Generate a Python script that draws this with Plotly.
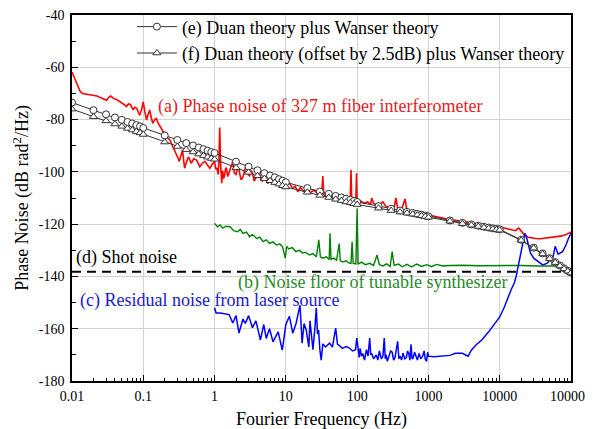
import plotly.graph_objects as go

# ---------------- data ----------------
# (a) Phase noise of 327 m fiber interferometer
red_f = [0.0100, 0.0106, 0.0113, 0.0120, 0.0130, 0.0140, 0.0160, 0.0180, 0.0200, 0.0225,
         0.0250, 0.0280, 0.0306, 0.0330, 0.0350, 0.0380, 0.0420, 0.0460, 0.0520, 0.0560,
         0.0580, 0.0620, 0.0660, 0.0720, 0.0760, 0.0810, 0.0860, 0.0890, 0.0950, 0.1000,
         0.1050, 0.1110, 0.1170, 0.1230, 0.1300, 0.1360, 0.1450, 0.1530, 0.1620, 0.1700,
         0.1800, 0.1900, 0.2000, 0.2100, 0.2360, 0.2600, 0.2900, 0.3100, 0.3200, 0.3400,
         0.3550, 0.3700, 0.3800, 0.4000, 0.4300, 0.4700, 0.5100, 0.5600, 0.6000, 0.6200,
         0.6700, 0.7300, 0.8000, 0.8600, 0.9300, 1.000, 1.040, 1.080, 1.120, 1.150,
         1.180, 1.200, 1.220, 1.260, 1.300, 1.340, 1.380, 1.420, 1.460, 1.530,
         1.600, 1.700, 1.800, 1.900, 2.000, 2.100, 2.200, 2.350, 2.500, 2.650,
         2.800, 2.950, 3.100, 3.250, 3.400, 3.600, 3.800, 4.000, 4.200, 4.450,
         4.700, 5.000, 5.300, 5.600, 5.900, 6.200, 6.600, 6.900, 7.300, 7.700,
         8.100, 8.500, 9.000, 9.500, 10.0, 11.2, 12.5, 13.5, 14.7, 16.0,
         18.0, 20.0, 22.0, 25.0, 28.0, 30.0, 32.0, 33.0, 34.0, 37.0,
         41.0, 46.0, 51.0, 56.0, 62.0, 68.0, 75.0, 80.0, 82.0, 84.0,
         90.0, 96.0, 98.0, 100.0, 110.0, 125.0, 140.0, 155.0, 160.0, 170.0,
         190.0, 210.0, 230.0, 250.0, 270.0, 300.0, 330.0, 350.0, 370.0, 420.0,
         470.0, 500.0, 560.0, 650.0, 750.0, 850.0, 1000.0, 1200.0, 1400.0, 1600.0,
         2000.0, 2500.0, 3000.0, 3600.0, 4500.0, 5500.0, 7000.0, 8500.0, 10000.0, 12000.0,
         14000.0, 16500.0, 18500.0, 20000.0, 22000.0, 25000.0, 28000.0, 32000.0, 37000.0, 42000.0,
         48000.0, 55000.0, 65000.0, 75000.0, 85000.0, 92000.0, 100000.0]
red_db = [-61.8, -63.5, -65.5, -67.5, -69.2, -70.0, -70.3, -70.4, -70.6, -71.0,
          -71.6, -72.3, -72.6, -71.4, -71.0, -71.9, -72.3, -73.0, -73.8, -74.6,
          -75.0, -74.0, -74.2, -76.3, -75.3, -75.7, -77.5, -78.3, -76.0, -73.2,
          -77.0, -80.2, -78.0, -76.3, -79.5, -81.4, -80.0, -79.6, -81.5, -82.7,
          -83.5, -84.6, -85.0, -86.5, -87.8, -90.4, -92.9, -95.0, -96.0, -93.0,
          -91.6, -96.0, -98.6, -96.5, -94.2, -96.7, -95.0, -95.5, -97.5, -98.0,
          -96.8, -96.0, -97.5, -98.6, -97.0, -96.0, -99.0, -98.5, -101.0, -97.0,
          -83.0, -97.5, -98.0, -104.3, -99.5, -102.5, -101.5, -99.0, -98.4, -101.8,
          -100.5, -98.0, -96.0, -100.5, -101.0, -98.5, -99.3, -103.0, -102.0, -99.0,
          -97.0, -101.0, -101.5, -99.5, -100.5, -103.5, -102.3, -100.0, -99.3, -103.0,
          -103.5, -101.5, -103.0, -104.5, -101.5, -103.0, -101.8, -104.5, -104.0, -102.5,
          -104.4, -105.5, -103.5, -105.5, -105.0, -104.3, -106.3, -105.5, -107.6, -106.0,
          -107.5, -106.5, -108.0, -107.0, -108.5, -107.5, -108.0, -101.6, -108.5, -109.5,
          -108.5, -110.0, -109.0, -110.5, -109.5, -111.0, -110.0, -110.8, -99.3, -111.5,
          -110.5, -111.0, -100.5, -111.5, -111.0, -112.0, -111.5, -112.5, -110.0, -112.0,
          -112.8, -112.3, -111.5, -113.0, -113.5, -113.2, -113.8, -110.0, -114.0, -114.5,
          -110.3, -114.8, -115.0, -115.5, -115.8, -116.3, -116.5, -117.0, -117.3, -117.8,
          -118.2, -118.6, -119.0, -119.3, -119.7, -120.0, -120.4, -120.7, -121.0, -121.6,
          -122.0, -122.5, -121.5, -122.8, -124.0, -125.0, -125.3, -125.5, -125.6, -125.4,
          -125.2, -125.0, -124.7, -124.5, -124.0, -123.5, -123.0]

# (b) Noise floor of tunable synthesizer
green_f = [1.00, 1.10, 1.20, 1.30, 1.45, 1.65, 1.85, 2.10, 2.30, 2.50,
           2.80, 3.10, 3.40, 3.90, 4.30, 4.80, 5.30, 5.90, 6.60, 7.40,
           8.20, 9.00, 9.80, 10.3, 11.0, 12.3, 13.8, 15.5, 17.0, 19.0,
           21.5, 24.0, 26.8, 29.0, 30.5, 33.0, 37.0, 40.5, 41.6, 43.0,
           47.0, 51.5, 56.0, 58.0, 63.0, 70.0, 76.0, 82.0, 85.0, 88.0,
           96.0, 100.0, 103.0, 115.0, 130.0, 150.0, 170.0, 190.0, 205.0, 230.0,
           260.0, 290.0, 310.0, 330.0, 380.0, 430.0, 500.0, 580.0, 680.0, 800.0,
           950.0, 1100.0, 1300.0, 1600.0, 2000.0, 3000.0, 5000.0, 8000.0, 12000.0, 20000.0,
           35000.0, 55000.0, 70000.0]
green_db = [-119.7, -121.0, -120.3, -121.5, -120.8, -121.0, -122.5, -122.9, -122.0, -123.5,
            -123.0, -124.8, -124.0, -125.5, -125.0, -126.7, -126.0, -127.4, -126.8, -128.0,
            -127.5, -128.7, -133.0, -128.5, -129.5, -129.0, -130.5, -130.0, -131.0, -130.8,
            -131.8, -131.3, -132.5, -126.0, -132.5, -133.0, -132.5, -133.5, -123.5, -133.5,
            -133.0, -133.8, -127.4, -134.0, -134.5, -134.0, -134.8, -135.0, -126.7, -135.0,
            -135.2, -114.0, -135.3, -134.5, -135.5, -135.0, -135.8, -131.8, -135.5, -136.0,
            -135.2, -136.2, -130.5, -135.8, -135.3, -136.3, -135.4, -136.4, -135.3, -136.2,
            -135.5, -136.3, -135.4, -136.0, -135.8, -135.7, -135.9, -135.8, -135.9, -135.8,
            -136.0, -136.0, -136.0]

# (c) Residual noise from laser source
blue_f = [1.00, 1.05, 1.20, 1.40, 1.60, 1.80, 2.00, 2.20, 2.50, 2.70,
          3.00, 3.40, 3.80, 4.40, 4.90, 5.30, 5.90, 6.60, 7.80, 8.90,
          10.0, 11.2, 12.5, 13.9, 15.8, 16.9, 18.0, 19.3, 21.0, 21.8,
          23.0, 24.0, 25.5, 26.7, 27.8, 28.8, 30.0, 31.3, 33.0, 36.0,
          41.0, 45.0, 50.0, 53.0, 56.0, 62.0, 70.0, 78.0, 86.0, 95.0,
          99.0, 103.0, 107.0, 110.0, 115.0, 120.0, 127.0, 135.0, 142.0, 150.0,
          155.0, 160.0, 170.0, 185.0, 195.0, 205.0, 218.0, 230.0, 240.0, 248.0,
          255.0, 265.0, 280.0, 295.0, 310.0, 325.0, 340.0, 355.0, 370.0, 385.0,
          400.0, 420.0, 440.0, 465.0, 490.0, 510.0, 530.0, 550.0, 570.0, 590.0,
          610.0, 640.0, 670.0, 700.0, 740.0, 780.0, 830.0, 870.0, 900.0, 940.0,
          975.0, 1000.0, 1200.0, 1600.0, 2000.0, 2400.0, 3000.0, 3600.0, 4000.0, 4600.0,
          5600.0, 7000.0, 8700.0, 10000.0, 11500.0, 13000.0, 14500.0, 16000.0, 17000.0, 18500.0,
          20000.0, 21000.0, 22500.0, 24000.0, 26000.0, 27000.0, 30000.0, 35000.0, 40000.0, 46000.0,
          50000.0, 56000.0, 60000.0, 63000.0, 66000.0, 76000.0, 85000.0, 92000.0, 100000.0]
blue_db = [-152.0, -154.0, -154.0, -154.2, -154.6, -157.8, -155.0, -161.7, -156.3, -158.0,
           -155.0, -159.6, -157.0, -164.3, -158.4, -163.7, -160.0, -165.0, -161.2, -168.2,
           -158.4, -155.2, -161.7, -158.0, -151.0, -165.5, -158.0, -160.5, -167.0, -157.0,
           -164.0, -168.0, -160.0, -152.0, -162.0, -160.5, -168.0, -172.0, -165.8, -167.0,
           -165.5, -167.0, -159.8, -166.0, -166.4, -167.5, -166.8, -167.4, -168.5, -168.0,
           -163.6, -169.0, -171.0, -167.5, -170.5, -169.5, -172.0, -168.0, -170.5, -163.6,
           -170.0, -169.5, -171.5, -170.0, -172.0, -168.5, -171.5, -170.5, -163.6, -171.5,
           -170.0, -172.5, -170.4, -168.5, -169.0, -172.0, -171.0, -168.5, -164.8, -171.5,
           -170.5, -172.0, -169.3, -171.5, -171.0, -168.5, -169.5, -172.0, -166.0, -171.5,
           -171.2, -169.0, -171.0, -172.0, -169.5, -171.5, -170.5, -168.5, -171.5, -172.5,
           -169.0, -170.5, -170.7, -170.5, -170.2, -169.4, -169.4, -170.5, -168.2, -166.3,
           -164.3, -161.2, -157.5, -155.5, -152.0, -148.0, -145.0, -142.5, -140.0, -135.0,
           -130.0, -127.0, -123.5, -125.5, -129.5, -131.0, -133.0, -134.4, -135.6, -135.0,
           -134.0, -132.5, -128.5, -130.0, -131.5, -130.5, -128.0, -125.5, -123.5]

# (d) Shot noise
shot_f = [0.01, 100000.0]
shot_db = [-138.2, -138.2]

# (e), (f) theory curves
theory_f = [0.01, 0.02, 0.03, 0.04, 0.05, 0.06, 0.07, 0.08, 0.09,
            0.1, 0.2, 0.3, 0.4, 0.5, 0.6, 0.7, 0.8, 0.9,
            1, 2, 3, 4, 5, 6, 7, 8, 9,
            10, 20, 30, 40, 50, 60, 70, 80, 90,
            100, 200, 300, 400, 500, 600, 700, 800, 900,
            1000, 2000, 3000, 4000, 5000, 6000, 7000, 8000, 9000,
            10000, 20000, 30000, 40000, 50000, 60000, 70000, 80000, 90000,
            100000]
theory_e = [-73.5, -76.4, -78.0, -79.2, -80.1, -80.9, -81.5, -82.1, -82.6,
            -83.2, -86.1, -87.8, -89.0, -89.9, -90.7, -91.3, -91.9, -92.4,
            -92.8, -96.1, -98.0, -99.4, -100.5, -101.4, -102.1, -102.8, -103.4,
            -104.0, -106.2, -107.5, -108.4, -109.2, -109.8, -110.3, -110.7, -111.1,
            -111.5, -113.1, -114.1, -114.8, -115.3, -115.7, -116.1, -116.4, -116.7,
            -117.0, -118.6, -119.5, -120.1, -120.6, -121.0, -121.3, -121.6, -121.8,
            -122.0, -126.0, -129.0, -131.2, -133.0, -134.5, -135.8, -136.9, -137.8,
            -138.5]
theory_f_off = [-76.0, -78.9, -80.5, -81.7, -82.6, -83.4, -84.0, -84.6, -85.1,
                -85.7, -88.6, -90.3, -91.5, -92.4, -93.2, -93.8, -94.4, -94.9,
                -95.2, -98.4, -100.2, -101.5, -102.6, -103.4, -104.1, -104.7, -105.3,
                -105.8, -107.8, -109.0, -109.8, -110.5, -111.0, -111.5, -111.8, -112.2,
                -112.5, -113.9, -114.8, -115.4, -115.8, -116.2, -116.5, -116.8, -117.1,
                -117.4, -118.9, -119.8, -120.4, -120.9, -121.3, -121.6, -121.9, -122.1,
                -122.3, -126.2, -129.2, -131.4, -133.2, -134.7, -136.0, -137.1, -138.0,
                -138.7]

x_tickvals = [0.01, 0.1, 1, 10, 100, 1000, 10000, 100000]
x_ticktext = ["0.01", "0.1", "1", "10", "100", "1000", "10000", "100000"]
y_tickvals = [-180, -160, -140, -120, -100, -80, -60, -40]
y_ticktext = ["-180", "-160", "-140", "-120", "-100", "-80", "-60", "-40"]

assert len(red_f) == len(red_db)
assert len(green_f) == len(green_db)
assert len(blue_f) == len(blue_db)
assert len(theory_f) == len(theory_e) == len(theory_f_off)

FONT = "Liberation Serif, Times New Roman, serif"

fig = go.Figure()
fig.add_trace(go.Scatter(x=red_f, y=red_db, mode="lines", line=dict(color="#ff0000", width=1.6),
                         showlegend=False))
fig.add_trace(go.Scatter(x=green_f, y=green_db, mode="lines", line=dict(color="#008000", width=1.4),
                         showlegend=False))
fig.add_trace(go.Scatter(x=blue_f, y=blue_db, mode="lines", line=dict(color="#0000ff", width=1.5),
                         showlegend=False))
fig.add_trace(go.Scatter(x=shot_f, y=shot_db, mode="lines",
                         line=dict(color="black", width=2, dash="9px,6px"), showlegend=False))
fig.add_trace(go.Scatter(x=theory_f, y=theory_e, mode="lines+markers",
                         name="(e) Duan theory plus Wanser theory",
                         line=dict(color="#333333", width=1),
                         marker=dict(symbol="circle", size=7, color="white",
                                     line=dict(color="#333333", width=1))))
fig.add_trace(go.Scatter(x=theory_f, y=theory_f_off, mode="lines+markers",
                         name="(f) Duan theory (offset by 2.5dB) plus Wanser theory",
                         line=dict(color="#333333", width=1),
                         marker=dict(symbol="triangle-up", size=7, color="white",
                                     line=dict(color="#333333", width=1))))

ann_font = dict(family=FONT, size=18)
annotations = [
    dict(text="(a) Phase noise of 327 m fiber interferometer", x=0.168, y=0.749,
         font=dict(ann_font, color="#e01e25")),
    dict(text="(d) Shot noise", x=0.004, y=0.337, font=dict(ann_font, color="black")),
    dict(text="(b) Noise floor of tunable synthesizer", x=0.329, y=0.270,
         font=dict(ann_font, color="#2a8a2a")),
    dict(text="(c) Residual noise from laser source", x=0.012, y=0.219,
         font=dict(ann_font, color="#2020c8")),
]
for a in annotations:
    a.update(xref="paper", yref="paper", xanchor="left", yanchor="middle", showarrow=False)

# the page places the figure 8 px from the window's top-left corner,
# so margins are shifted to put the plot area where the reference has it
fig.update_layout(
    width=593, height=429,
    margin=dict(l=64, r=30, t=7, b=56, autoexpand=False),
    paper_bgcolor="white", plot_bgcolor="white",
    font=dict(family=FONT, size=14, color="black"),
    showlegend=True,
    legend=dict(x=0.120, y=1.018, xanchor="left", yanchor="top", bgcolor="rgba(0,0,0,0)",
                font=dict(family=FONT, size=18, color="black"), itemwidth=40,
                tracegroupgap=0),
    annotations=annotations,
)
fig.update_xaxes(type="log", range=[-2, 5], tickvals=x_tickvals, ticktext=x_ticktext,
                 automargin=False, ticklabeloverflow="allow",
                 showline=True, linecolor="black", linewidth=1.5, mirror=True,
                 ticks="inside", ticklen=6, tickcolor="black",
                 showgrid=True, gridcolor="#d3d3d3", gridwidth=1, zeroline=False,
                 minor=dict(ticks="inside", ticklen=3, tickcolor="black", dtick="D1", showgrid=False),
                 tickfont=dict(family=FONT, size=14), ticklabelstandoff=1,
                 title=dict(text="Fourier Frequency (Hz)", font=dict(family=FONT, size=18), standoff=10))
fig.update_yaxes(range=[-180, -40], tickvals=y_tickvals, ticktext=y_ticktext,
                 automargin=False, ticklabeloverflow="allow",
                 showline=True, linecolor="black", linewidth=1.5, mirror=True,
                 ticks="inside", ticklen=6, tickcolor="black",
                 showgrid=True, gridcolor="#d3d3d3", gridwidth=1, zeroline=False,
                 minor=dict(ticks="inside", ticklen=4, tickcolor="black", dtick=10, showgrid=False),
                 tickfont=dict(family=FONT, size=14), ticklabelstandoff=3,
                 title=dict(text="Phase Noise (dB rad<sup>2</sup>/Hz)", font=dict(family=FONT, size=18),
                            standoff=5))

fig.write_html("out.html")
